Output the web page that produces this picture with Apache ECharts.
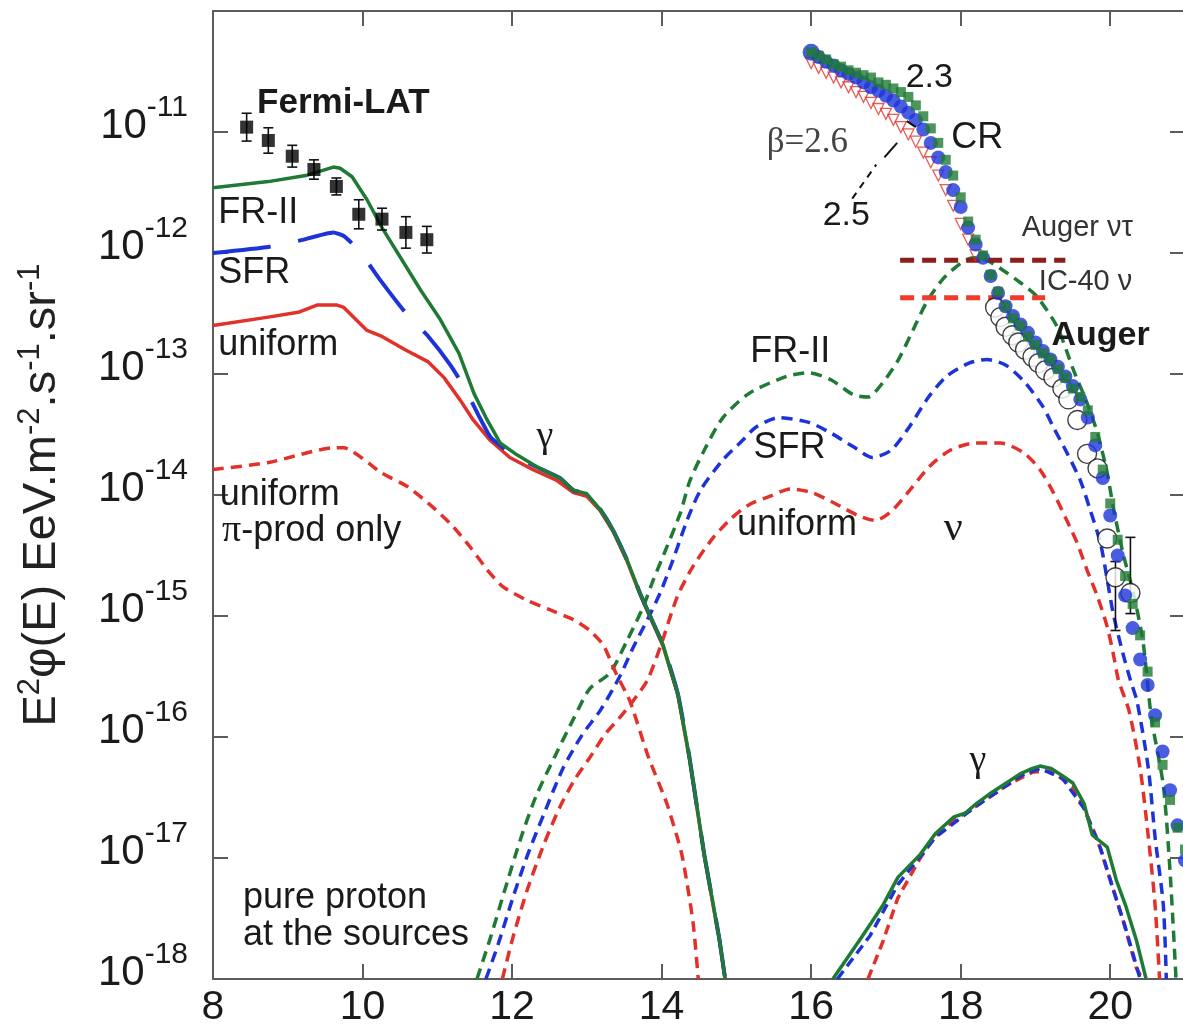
<!DOCTYPE html>
<html>
<head>
<meta charset="utf-8">
<title>Cosmogenic photon and neutrino fluxes, pure proton sources</title>
<script src="https://cdn.jsdelivr.net/npm/echarts@6/dist/echarts.min.js"></script>
<style>
  html, body { margin: 0; padding: 0; background: #ffffff; }
  #chart { width: 1183px; height: 1029px; }
</style>
</head>
<body>
<div id="chart"></div>
<script>
// x: log10(E / eV); y: log10(E^2 phi(E) / EeV m^-2 s^-1 sr^-1)

// Fermi-LAT diffuse gamma background: [log10 E, log10 flux, lower, upper]
const fermiLat = [
  [8.45, -10.96, -11.075, -10.845],
  [8.74, -11.07, -11.175, -10.965],
  [9.06, -11.20, -11.29, -11.11],
  [9.35, -11.31, -11.39, -11.23],
  [9.65, -11.45, -11.52, -11.38],
  [9.95, -11.68, -11.80, -11.56],
  [10.26, -11.72, -11.81, -11.63],
  [10.58, -11.83, -11.96, -11.70],
  [10.86, -11.89, -12.00, -11.78]
];

// Cascade photons below 10^15 eV
const gammaFR2 = [
  [8.00, -11.46], [8.74, -11.41], [9.24, -11.36], [9.61, -11.29], [9.70, -11.30],
  [9.86, -11.37], [10.06, -11.56], [10.26, -11.79], [10.53, -12.06], [10.78, -12.31],
  [11.04, -12.55], [11.29, -12.83], [11.49, -13.16], [11.65, -13.36], [11.84, -13.57],
  [12.07, -13.67], [12.37, -13.78], [12.64, -13.86], [12.82, -13.96], [13.00, -13.99],
  [13.18, -14.12], [13.35, -14.29], [13.54, -14.54], [13.71, -14.81], [13.89, -15.06],
  [14.02, -15.24], [14.22, -15.65], [14.37, -16.16], [14.57, -16.97], [14.77, -17.66],
  [14.85, -18.00]
];
const gammaSFR = [
  [8.00, -12.00], [8.74, -11.95], [9.14, -11.90], [9.61, -11.83], [9.75, -11.86],
  [9.89, -11.94], [10.06, -12.07], [10.22, -12.21], [10.57, -12.49], [10.88, -12.69],
  [11.18, -12.93], [11.37, -13.12], [11.55, -13.34], [11.71, -13.52], [11.97, -13.65],
  [12.30, -13.76], [12.64, -13.86], [12.82, -13.96], [13.00, -13.99], [13.18, -14.12],
  [13.35, -14.29], [13.54, -14.54], [13.71, -14.81], [13.89, -15.06], [14.02, -15.24],
  [14.22, -15.65], [14.37, -16.16], [14.57, -16.97], [14.77, -17.66], [14.85, -18.00]
];
const gammaUniform = [
  [8.00, -12.60], [8.74, -12.53], [9.14, -12.49], [9.39, -12.43], [9.66, -12.43],
  [9.75, -12.45], [10.06, -12.64], [10.26, -12.69], [10.57, -12.80], [10.88, -12.90],
  [11.09, -13.03], [11.30, -13.21], [11.48, -13.38], [11.71, -13.55], [11.97, -13.69],
  [12.28, -13.79], [12.60, -13.88], [12.82, -13.98], [13.00, -14.01], [13.18, -14.13],
  [13.35, -14.30], [13.54, -14.55], [13.71, -14.82], [13.89, -15.07], [14.02, -15.25],
  [14.22, -15.66], [14.37, -16.17], [14.57, -16.98], [14.77, -17.67], [14.85, -18.00]
];
// Uniform evolution, photons from pion production only
const gammaPiUniform = [
  [8.00, -13.79], [8.76, -13.73], [9.61, -13.61], [9.75, -13.61], [10.26, -13.82],
  [10.60, -13.93], [10.94, -14.10], [11.21, -14.26], [11.44, -14.43], [11.67, -14.62],
  [11.88, -14.76], [12.20, -14.87], [12.51, -14.95], [12.82, -15.03], [13.04, -15.12],
  [13.22, -15.24], [13.38, -15.46], [13.58, -15.71], [13.82, -16.16], [14.07, -16.55],
  [14.27, -16.97], [14.42, -17.53], [14.49, -18.00]
];

// Cosmogenic neutrinos
const nuFR2 = [
  [11.53, -18.00], [11.71, -17.66], [11.91, -17.25], [12.12, -16.83], [12.32, -16.49],
  [12.58, -16.15], [12.83, -15.84], [13.04, -15.60], [13.31, -15.47], [13.54, -15.20],
  [13.75, -14.93], [13.89, -14.70], [14.07, -14.43], [14.25, -14.15], [14.38, -13.88],
  [14.57, -13.63], [14.82, -13.36], [15.17, -13.16], [15.67, -13.02], [15.97, -12.99],
  [16.27, -13.05], [16.56, -13.17], [16.76, -13.19], [16.96, -13.07], [17.16, -12.89],
  [17.36, -12.64], [17.55, -12.40], [17.77, -12.21], [18.01, -12.08], [18.17, -12.04],
  [18.35, -12.06], [18.56, -12.14], [18.81, -12.25], [19.02, -12.36], [19.29, -12.61],
  [19.51, -12.97], [19.69, -13.24], [19.83, -13.49], [19.96, -13.82], [20.04, -14.10],
  [20.17, -14.48], [20.31, -14.81], [20.44, -15.22], [20.55, -15.84], [20.71, -16.40],
  [20.80, -17.11], [20.88, -18.00]
];
const nuSFR = [
  [11.65, -18.00], [11.81, -17.72], [12.01, -17.33], [12.21, -16.97], [12.43, -16.63],
  [12.68, -16.26], [12.94, -15.98], [13.18, -15.78], [13.44, -15.50], [13.62, -15.26],
  [13.81, -15.03], [13.98, -14.81], [14.15, -14.54], [14.34, -14.21], [14.52, -13.96],
  [14.82, -13.71], [15.08, -13.55], [15.26, -13.44], [15.57, -13.36], [15.97, -13.40],
  [16.27, -13.49], [16.56, -13.60], [16.82, -13.69], [17.07, -13.63], [17.31, -13.44],
  [17.57, -13.19], [17.81, -13.02], [18.11, -12.91], [18.35, -12.88], [18.61, -12.93],
  [18.86, -13.07], [19.10, -13.27], [19.24, -13.44], [19.42, -13.65], [19.60, -13.88],
  [19.73, -14.12], [19.87, -14.40], [19.96, -14.70], [20.04, -14.98], [20.17, -15.31],
  [20.27, -15.53], [20.36, -15.71], [20.51, -16.26], [20.60, -16.83], [20.71, -17.39],
  [20.75, -18.00]
];
const nuUniform = [
  [11.87, -18.00], [12.01, -17.66], [12.21, -17.25], [12.43, -16.88], [12.63, -16.59],
  [12.83, -16.36], [13.04, -16.17], [13.24, -15.98], [13.44, -15.84], [13.62, -15.70],
  [13.81, -15.53], [13.98, -15.26], [14.21, -14.84], [14.42, -14.59], [14.68, -14.36],
  [14.92, -14.20], [15.17, -14.08], [15.45, -14.01], [15.72, -13.95], [16.01, -13.98],
  [16.32, -14.07], [16.63, -14.17], [16.86, -14.21], [17.08, -14.13], [17.32, -13.96],
  [17.59, -13.76], [17.86, -13.63], [18.19, -13.57], [18.53, -13.57], [18.84, -13.65],
  [19.06, -13.79], [19.24, -13.98], [19.42, -14.21], [19.56, -14.40], [19.69, -14.62],
  [19.83, -14.84], [19.96, -15.09], [20.04, -15.31], [20.11, -15.53], [20.25, -15.78],
  [20.40, -16.26], [20.51, -16.83], [20.60, -17.39], [20.66, -18.00]
];

// Ultra-high-energy photons
const gammaUheFR2 = [
  [16.29, -18.00], [16.67, -17.66], [16.96, -17.39], [17.16, -17.16], [17.46, -16.97],
  [17.66, -16.80], [17.91, -16.66], [18.06, -16.63], [18.21, -16.55], [18.41, -16.46],
  [18.61, -16.38], [18.81, -16.30], [18.96, -16.26], [19.06, -16.24], [19.21, -16.26],
  [19.36, -16.32], [19.50, -16.38], [19.65, -16.55], [19.76, -16.81], [19.96, -16.91],
  [20.08, -17.18], [20.21, -17.40], [20.35, -17.68], [20.48, -18.00]
];
const gammaUheSFR = [
  [16.35, -18.00], [16.79, -17.64], [17.16, -17.22], [17.66, -16.83], [18.21, -16.57],
  [18.81, -16.32], [19.06, -16.26], [19.36, -16.34], [19.65, -16.59], [19.87, -16.92],
  [20.04, -17.26], [20.21, -17.59], [20.40, -18.00]
];
const gammaUheUniform = [
  [16.76, -18.00], [16.96, -17.69], [17.16, -17.33], [17.46, -17.00], [17.66, -16.82],
  [17.91, -16.69], [18.21, -16.57], [18.61, -16.40], [18.96, -16.29], [19.21, -16.28],
  [19.50, -16.41], [19.65, -16.59], [19.83, -16.85], [20.00, -17.18], [20.17, -17.51],
  [20.35, -17.91], [20.43, -18.00]
];

// Propagated cosmic-ray proton spectra for source indices beta = 2.3, 2.5, 2.6
const crBeta23 = [
  [16.0, -10.34], [16.1, -10.37], [16.2, -10.40], [16.3, -10.44], [16.4, -10.46],
  [16.5, -10.49], [16.6, -10.51], [16.7, -10.53], [16.8, -10.55], [16.9, -10.59],
  [17.0, -10.61], [17.1, -10.64], [17.2, -10.67], [17.3, -10.71], [17.4, -10.78],
  [17.5, -10.87], [17.6, -10.97], [17.7, -11.09], [17.8, -11.23], [17.9, -11.36],
  [18.0, -11.54], [18.1, -11.74], [18.2, -11.89], [18.3, -12.02], [18.4, -12.18],
  [18.5, -12.32], [18.6, -12.44], [18.7, -12.54], [18.8, -12.60], [18.9, -12.69],
  [19.0, -12.76], [19.1, -12.83], [19.2, -12.88], [19.3, -12.96], [19.4, -13.03],
  [19.5, -13.12], [19.6, -13.19], [19.7, -13.30], [19.8, -13.52], [19.9, -13.79],
  [20.0, -14.07], [20.1, -14.37], [20.2, -14.67], [20.3, -14.90], [20.4, -15.16],
  [20.5, -15.46], [20.6, -15.88], [20.7, -16.23], [20.8, -16.52], [20.9, -16.75],
  [21.0, -16.93]
];
const crBeta25 = [
  [16.0, -10.34], [16.1, -10.38], [16.2, -10.42], [16.3, -10.45], [16.4, -10.49],
  [16.5, -10.52], [16.6, -10.55], [16.7, -10.59], [16.8, -10.63], [16.9, -10.66],
  [17.0, -10.70], [17.1, -10.74], [17.2, -10.79], [17.3, -10.84], [17.4, -10.90],
  [17.5, -10.98], [17.6, -11.09], [17.7, -11.21], [17.8, -11.33], [17.9, -11.48],
  [18.0, -11.62], [18.1, -11.79], [18.2, -11.93], [18.3, -12.04], [18.4, -12.19],
  [18.5, -12.33], [18.6, -12.44], [18.7, -12.52], [18.8, -12.59], [18.9, -12.66],
  [19.0, -12.74], [19.1, -12.81], [19.2, -12.88], [19.3, -12.94], [19.4, -13.02],
  [19.5, -13.10], [19.6, -13.21], [19.7, -13.36], [19.8, -13.59], [19.9, -13.86],
  [20.0, -14.17], [20.1, -14.50], [20.2, -14.83], [20.3, -15.10], [20.4, -15.36],
  [20.5, -15.57], [20.6, -15.82], [20.7, -16.12], [20.8, -16.44], [20.9, -16.73],
  [21.0, -17.02]
];
const crBeta26 = [
  [16.0, -10.43], [16.1, -10.47], [16.2, -10.51], [16.3, -10.55], [16.4, -10.59],
  [16.5, -10.63], [16.6, -10.67], [16.7, -10.71], [16.8, -10.76], [16.9, -10.81],
  [17.0, -10.85], [17.1, -10.90], [17.2, -10.96], [17.3, -11.02], [17.4, -11.08],
  [17.5, -11.17], [17.6, -11.25], [17.7, -11.36], [17.8, -11.48], [17.9, -11.61],
  [18.0, -11.76], [18.1, -11.89], [18.2, -12.02]
];

// Pierre Auger Observatory spectrum: [log10 E, log10 flux, lower, upper]
const augerSpectrum = [
  [18.46, -12.45, -12.45, -12.45], [18.53, -12.53, -12.53, -12.53], [18.60, -12.61, -12.61, -12.61],
  [18.69, -12.68, -12.68, -12.68], [18.77, -12.74, -12.74, -12.74], [18.86, -12.80, -12.80, -12.80],
  [18.96, -12.86, -12.86, -12.86], [19.04, -12.91, -12.91, -12.91], [19.13, -12.97, -12.97, -12.97],
  [19.24, -13.03, -13.03, -13.03], [19.36, -13.12, -13.12, -13.12], [19.44, -13.21, -13.21, -13.21],
  [19.56, -13.38, -13.38, -13.38], [19.69, -13.66, -13.66, -13.66], [19.83, -13.78, -13.78, -13.78],
  [19.96, -14.36, -14.36, -14.36], [20.07, -14.68, -15.12, -14.55], [20.27, -14.81, -14.98, -14.35]
];

// Neutrino flux upper limits
const augerNuTauLimit = [[17.19, -12.06], [19.40, -12.06]];
const ic40NuLimit = [[17.19, -12.37], [19.13, -12.37]];

// Leader lines from the beta labels to the cosmic-ray curves
const betaLeaders = [
  { from: [16.98, -11.21], to: [17.15, -11.09], dashed: false },
  { from: [16.55, -11.55], to: [16.87, -11.27], dashed: true },
  { from: [17.28, -10.91], to: [17.40, -10.96], dashed: false }
];

const SANS = '"Liberation Sans", Arial, Helvetica, sans-serif';
const SERIF = '"Liberation Serif", "Times New Roman", serif';
const GREEN = '#1f7a35';
const BLUE = '#1d33d8';
const RED = '#e2312a';
const DARK_RED = '#8c1f1c';
const LIMIT_RED = '#f03a2a';
const AXIS = '#5c5c5c';
const INK = '#1a1a1a';

// Text annotations placed in data coordinates
const annotations = [
  { text: 'Fermi-LAT', at: [8.59, -10.76], align: 'left', size: 35, weight: 'bold' },
  { text: 'FR-II', at: [8.07, -11.67], align: 'left', size: 36 },
  { text: 'SFR', at: [8.07, -12.17], align: 'left', size: 36 },
  { text: 'uniform', at: [8.07, -12.76], align: 'left', size: 36 },
  { text: 'uniform', at: [8.09, -14.00], align: 'left', size: 36 },
  { text: '{p|π}-prod only', at: [8.12, -14.30], align: 'left', size: 36,
    rich: { p: { fontFamily: SERIF, fontSize: 38, fill: INK } } },
  { text: 'pure proton', at: [8.40, -17.33], align: 'left', size: 36 },
  { text: 'at the sources', at: [8.40, -17.64], align: 'left', size: 36 },
  { text: 'γ', at: [12.44, -13.52], size: 38, family: SERIF },
  { text: 'FR-II', at: [15.72, -12.82], size: 36 },
  { text: 'SFR', at: [15.71, -13.61], size: 36 },
  { text: 'uniform', at: [15.81, -14.25], size: 36 },
  { text: 'ν', at: [17.90, -14.28], size: 42, family: SERIF },
  { text: 'γ', at: [18.23, -16.20], size: 38, family: SERIF },
  { text: '2.3', at: [17.58, -10.55], size: 34 },
  { text: 'CR', at: [18.22, -11.05], size: 36 },
  { text: 'β=2.6', at: [15.95, -11.09], size: 35, family: SERIF, color: '#444444' },
  { text: '2.5', at: [16.47, -11.69], size: 34 },
  { text: 'Auger ντ', at: [19.56, -11.79], size: 29, color: '#333333' },
  { text: 'IC-40 ν', at: [19.67, -12.24], size: 29, color: '#333333' },
  { text: 'Auger', at: [19.87, -12.68], size: 34, weight: 'bold' }
];

function curve(name, data, color, width, dash, z, smooth) {
  return {
    name: name,
    type: 'line',
    data: data,
    symbol: 'none',
    showSymbol: false,
    smooth: smooth || 0,
    silent: true,
    z: z,
    lineStyle: { color: color, width: width, type: dash || 'solid', cap: 'butt', join: 'round' }
  };
}

function errorBars(name, rows, cap, z) {
  const data = rows.filter(r => r[2] !== r[3]).map(r => [r[0], r[2], r[3]]);
  return {
    name: name,
    type: 'custom',
    data: data,
    encode: { x: 0, y: [1, 2] },
    silent: true,
    z: z,
    renderItem: function (params, api) {
      const x = api.value(0);
      const lo = api.coord([x, api.value(1)]);
      const hi = api.coord([x, api.value(2)]);
      const st = { stroke: '#111111', lineWidth: 1.6 };
      return {
        type: 'group',
        children: [
          { type: 'line', shape: { x1: lo[0], y1: lo[1], x2: hi[0], y2: hi[1] }, style: st },
          { type: 'line', shape: { x1: lo[0] - cap, y1: lo[1], x2: lo[0] + cap, y2: lo[1] }, style: st },
          { type: 'line', shape: { x1: hi[0] - cap, y1: hi[1], x2: hi[0] + cap, y2: hi[1] }, style: st }
        ]
      };
    }
  };
}

const axisCommon = {
  axisLine: { show: true, onZero: false, lineStyle: { color: AXIS, width: 2 } },
  axisTick: { show: true, inside: true, length: 15, lineStyle: { color: AXIS, width: 2 } },
  splitLine: { show: false },
  minorTick: { show: false }
};

const series = [
  curve('ν uniform', nuUniform, RED, 3.5, [11, 7], 2, 0.25),
  curve('ν SFR', nuSFR, BLUE, 3.5, [11, 7], 2, 0.25),
  curve('ν FR-II', nuFR2, GREEN, 3.5, [11, 7], 2, 0.25),
  curve('γ uniform, π-prod only', gammaPiUniform, RED, 3.5, [11, 7], 2, 0.2),
  curve('γ uniform', gammaUniform, RED, 3.5, null, 3, 0),
  curve('γ SFR', gammaSFR, BLUE, 4, [58, 28], 4, 0.15),
  curve('γ FR-II', gammaFR2, GREEN, 3.5, null, 5, 0),
  curve('UHE γ uniform', gammaUheUniform, RED, 3.5, [10, 6], 3, 0),
  curve('UHE γ SFR', gammaUheSFR, BLUE, 3.5, [10, 6], 4, 0),
  curve('UHE γ FR-II', gammaUheFR2, GREEN, 3.5, null, 5, 0),
  errorBars('Fermi-LAT errors', fermiLat, 5, 6),
  {
    name: 'Fermi-LAT',
    type: 'scatter',
    data: fermiLat.map(r => [r[0], r[1]]),
    symbol: 'rect',
    symbolSize: 13,
    itemStyle: { color: '#000000' },
    silent: true,
    z: 7
  },
  curve('Auger ντ limit', augerNuTauLimit, DARK_RED, 5, [14, 8], 7, 0),
  curve('IC-40 ν limit', ic40NuLimit, LIMIT_RED, 5, [14, 8], 7, 0),
  {
    name: 'CR β=2.6',
    type: 'scatter',
    data: crBeta26,
    symbol: 'triangle',
    symbolRotate: 180,
    symbolSize: 11,
    itemStyle: { color: 'rgba(255,255,255,0)', borderColor: RED, borderWidth: 1.3 },
    silent: true,
    z: 8
  },
  errorBars('Auger errors', augerSpectrum, 5, 8),
  {
    name: 'Auger',
    type: 'scatter',
    data: augerSpectrum.map(r => [r[0], r[1]]),
    symbol: 'circle',
    symbolSize: 19,
    itemStyle: { color: '#ffffff', borderColor: '#111111', borderWidth: 1.4 },
    silent: true,
    z: 9
  },
  {
    name: 'CR β=2.5',
    type: 'scatter',
    data: crBeta25,
    symbol: 'circle',
    symbolSize: function (v, p) { return p.dataIndex === 0 ? 17 : 14; },
    itemStyle: { color: BLUE },
    silent: true,
    z: 10
  },
  {
    name: 'CR β=2.3',
    type: 'scatter',
    data: crBeta23,
    symbol: 'rect',
    symbolSize: 10,
    itemStyle: { color: GREEN },
    silent: true,
    z: 11
  }
];

betaLeaders.forEach(function (l, i) {
  series.push(curve('leader ' + i, [l.from, l.to], '#111111', 2, l.dashed ? [7, 6] : null, 12, 0));
});

series.push({
  name: 'annotations',
  type: 'custom',
  data: annotations.map(a => a.at),
  encode: { x: 0, y: 1 },
  silent: true,
  clip: false,
  z: 20,
  renderItem: function (params, api) {
    const a = annotations[params.dataIndex];
    const p = api.coord([api.value(0), api.value(1)]);
    return {
      type: 'text',
      x: p[0],
      y: p[1],
      style: {
        text: a.text,
        fontSize: a.size,
        fontFamily: a.family || SANS,
        fontWeight: a.weight || 'normal',
        fill: a.color || INK,
        align: a.align || 'center',
        verticalAlign: 'middle',
        rich: a.rich
      }
    };
  }
});

const chart = echarts.init(document.getElementById('chart'), null, { renderer: 'canvas' });

chart.setOption({
  animation: false,
  backgroundColor: '#ffffff',
  grid: { left: 213, top: 11, width: 972, height: 968, containLabel: false, outerBoundsMode: 'none' },
  xAxis: [
    Object.assign({}, axisCommon, {
      type: 'value', min: 8, max: 21, interval: 2, position: 'bottom',
      axisLabel: {
        fontSize: 41, fontFamily: SANS, color: INK, margin: 8, showMaxLabel: false,
        formatter: function (v) { return v <= 20 ? String(v) : ''; }
      }
    }),
    Object.assign({}, axisCommon, {
      type: 'value', min: 8, max: 21, interval: 2, position: 'top',
      axisLabel: { show: false }
    })
  ],
  yAxis: [
    Object.assign({}, axisCommon, {
      type: 'value', min: -18, max: -10, interval: 1, position: 'left',
      axisLabel: {
        margin: 25, showMaxLabel: false, color: INK,
        padding: [0, 0, 24, 0],
        formatter: function (v) { return '{b|10}{s|' + v + '}'; },
        rich: {
          b: { fontSize: 42, fontFamily: SANS, color: INK, padding: [12, 0, 0, 0] },
          s: { fontSize: 30, fontFamily: SANS, color: INK, verticalAlign: 'top' }
        }
      },
      name: '{m|E}{s|2}{m|φ(E) EeV.m}{s|-2}{m|.s}{s|-1}{m|.sr}{s|-1}',
      nameLocation: 'middle',
      nameRotate: 90,
      nameGap: 147,
      nameTextStyle: {
        color: '#222222',
        fontFamily: SANS,
        fontSize: 47,
        rich: {
          m: { fontSize: 47, fontFamily: SANS, color: '#222222', padding: [4, 0, 0, 0] },
          s: { fontSize: 31, fontFamily: SANS, color: '#222222', verticalAlign: 'top' }
        }
      }
    }),
    Object.assign({}, axisCommon, {
      type: 'value', min: -18, max: -10, interval: 1, position: 'right',
      axisLabel: { show: false }
    })
  ],
  series: series
});
</script>
</body>
</html>
